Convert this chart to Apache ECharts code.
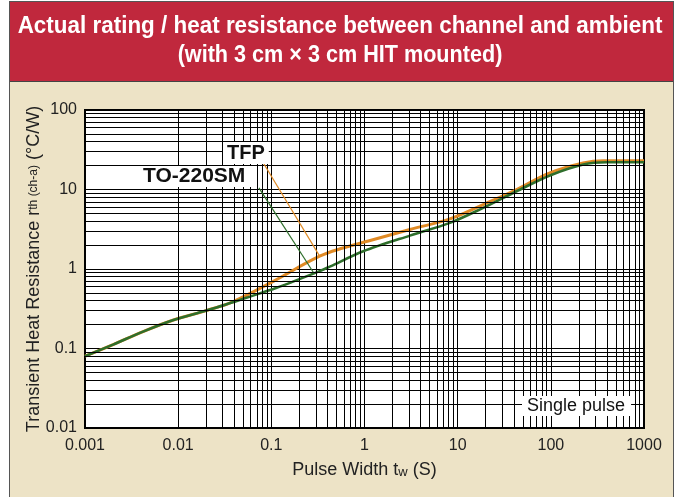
<!DOCTYPE html>
<html>
<head>
<meta charset="utf-8">
<script src="https://cdn.jsdelivr.net/npm/echarts@6/dist/echarts.min.js"></script>
<style>
  html, body { margin: 0; padding: 0; background: #fff; }
  #frame {
    position: absolute; left: 9px; top: 1px; width: 663px; height: 495px;
    background: #ede3c6; border: 1px solid #555;
  }
  #band {
    position: absolute; left: 0; top: 0; width: 663px; height: 79px;
    background: #c0283d; border-bottom: 1.5px solid #444;
  }
  #chart { position: absolute; left: 0; top: 0; width: 678px; height: 497px; }
</style>
</head>
<body>
<div id="frame"><div id="band"></div></div>
<div id="chart"></div>
<script>
// TO-220SM curve (green)
const smX = [0.001, 0.002, 0.0042, 0.0089, 0.02, 0.054, 0.114, 0.33, 0.43, 0.97, 3.07, 8.25, 18.8, 42.9, 97.7, 223, 400, 1000];
const smY = [0.08, 0.112, 0.163, 0.228, 0.30, 0.435, 0.58, 0.94, 1.08, 1.67, 2.63, 3.8, 5.88, 9.5, 15, 20.6, 22, 22];
// TFP curve (orange)
const tfpX = [0.001, 0.002, 0.0042, 0.0089, 0.02, 0.039, 0.105, 0.33, 0.6, 1.1, 3.07, 8.25, 18.8, 42.9, 97.7, 223, 365, 1000];
const tfpY = [0.08, 0.112, 0.163, 0.228, 0.30, 0.39, 0.70, 1.45, 1.85, 2.25, 3.14, 4.27, 6.47, 10, 16.2, 21.6, 23, 23];
// leader lines: [label end, curve end]
const tfpLeader = [[0.08, 22.7], [0.33, 1.45]];
const smLeader = [[0.0736, 10.5], [0.282, 0.91]];

const xDecades = [-3, -2, -1, 0, 1, 2];
const yDecades = [-2, -1, 0, 1];
const mults = [2, 3, 4, 5, 6, 7, 8, 9];

const gridLines = [];
xDecades.forEach(k => mults.forEach(m => gridLines.push({ xAxis: m * Math.pow(10, k) })));
yDecades.forEach(k => mults.forEach(m => gridLines.push({ yAxis: m * Math.pow(10, k) })));

const font = 'Liberation Sans, Arial, sans-serif';
const chart = echarts.init(document.getElementById('chart'));

const toPairs = (xs, ys) => xs.map((x, i) => [x, ys[i]]);
const fmt = v => String(parseFloat(Number(v).toPrecision(3)));

chart.setOption({
  animation: false,
  backgroundColor: 'transparent',
  grid: {
    left: 85, right: 34, top: 110, bottom: 69,
    show: true,
    backgroundColor: '#fff',
    borderColor: '#000',
    borderWidth: 2
  },
  xAxis: {
    type: 'log',
    logBase: 10,
    min: 0.001,
    max: 1000,
    splitNumber: 6,
    name: '{a|Pulse Width t}{s|w}{a| (S)}',
    nameLocation: 'middle',
    nameGap: 33,
    nameMoveOverlap: false,
    nameTextStyle: {
      rich: {
        a: { fontSize: 18, fontFamily: font, color: '#222' },
        s: { fontSize: 13, fontFamily: font, color: '#222', padding: [5, 0, 0, 0] }
      }
    },
    axisLine: { lineStyle: { color: '#000', width: 2 } },
    axisTick: { show: false },
    axisLabel: { fontSize: 16, fontFamily: font, color: '#222', margin: 10, formatter: fmt },
    splitLine: { show: true, lineStyle: { color: '#000', width: 1 } }
  },
  yAxis: {
    type: 'log',
    logBase: 10,
    min: 0.01,
    max: 100,
    splitNumber: 4,
    name: '{a|Transient Heat Resistance r}{s|th (ch-a)}{a| (\u00b0C/W)}',
    nameLocation: 'middle',
    nameGap: 42,
    nameMoveOverlap: false,
    nameTextStyle: {
      rich: {
        a: { fontSize: 18, fontFamily: font, color: '#222' },
        s: { fontSize: 12, fontFamily: font, color: '#222' }
      }
    },
    axisLine: { lineStyle: { color: '#000', width: 2 } },
    axisTick: { show: false },
    axisLabel: { fontSize: 16, fontFamily: font, color: '#222', margin: 8, formatter: fmt },
    splitLine: { show: true, lineStyle: { color: '#000', width: 1 } }
  },
  series: [
    {
      name: 'grid',
      type: 'line',
      data: [[1, 1]],
      showSymbol: false,
      lineStyle: { width: 0 },
      silent: true,
      z: 1,
      markLine: {
        silent: true,
        symbol: ['none', 'none'],
        label: { show: false },
        lineStyle: { color: '#000', width: 1, type: 'solid' },
        emphasis: { disabled: true },
        data: gridLines
      }
    },
    {
      name: 'TFP',
      type: 'line',
      data: toPairs(tfpX, tfpY),
      smooth: 0.4,
      showSymbol: false,
      z: 3,
      lineStyle: { color: '#e08a25', width: 3 },
      markLine: {
        silent: true,
        symbol: ['none', 'none'],
        label: { show: false },
        lineStyle: { color: '#e08a25', width: 1.2, type: 'solid' },
        data: [[{ coord: tfpLeader[0] }, { coord: tfpLeader[1] }]]
      }
    },
    {
      name: 'TO-220SM',
      type: 'line',
      data: toPairs(smX, smY),
      smooth: 0.3,
      showSymbol: false,
      z: 4,
      lineStyle: { color: '#2e6e2b', width: 2.6 },
      markLine: {
        silent: true,
        symbol: ['none', 'none'],
        label: { show: false },
        lineStyle: { color: '#2e6e2b', width: 1.2, type: 'solid' },
        data: [[{ coord: smLeader[0] }, { coord: smLeader[1] }]]
      }
    }
  ],
  graphic: [
    {
      type: 'text', x: 340, y: 14, scaleX: 0.935, z: 10,
      style: {
        text: 'Actual rating / heat resistance between channel and ambient',
        fill: '#fff', font: 'bold 24px ' + font, align: 'center', verticalAlign: 'top'
      }
    },
    {
      type: 'text', x: 340, y: 43, scaleX: 0.9, z: 10,
      style: {
        text: '(with 3 cm \u00d7 3 cm HIT mounted)',
        fill: '#fff', font: 'bold 24px ' + font, align: 'center', verticalAlign: 'top'
      }
    },
    {
      type: 'text', left: 223, top: 142, z: 10,
      style: {
        text: 'TFP', fill: '#111', font: 'bold 20px ' + font,
        backgroundColor: '#fff', padding: [1, 4, 1, 4]
      }
    },
    {
      type: 'text', left: 130, top: 166, z: 10,
      style: {
        text: 'TO-220SM', fill: '#111', font: 'bold 21px ' + font,
        backgroundColor: '#fff', padding: [0, 10, 0, 13]
      }
    },
    {
      type: 'text', left: 522, top: 396, z: 10,
      style: {
        text: 'Single pulse', fill: '#111', font: '18px ' + font,
        backgroundColor: '#fff', padding: [1, 6, 1, 5]
      }
    }
  ]
});
</script>
</body>
</html>
